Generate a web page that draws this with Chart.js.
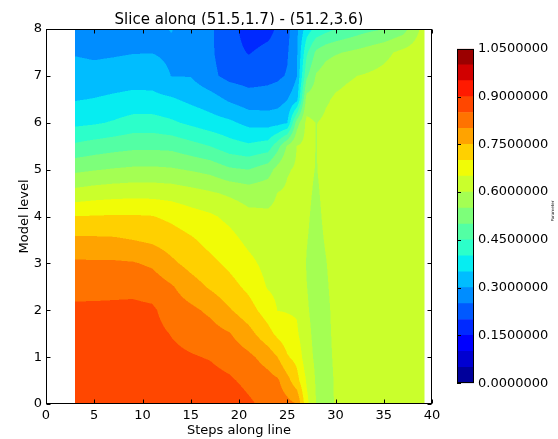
<!DOCTYPE html>
<html>
<head>
<meta charset="utf-8">
<script src="https://cdn.jsdelivr.net/npm/chart.js@4.4.0/dist/chart.umd.min.js"></script>
<style>
  body { margin: 0; background: #fff; }
  #wrap { position: relative; width: 558px; height: 439px; }
  #main { position: absolute; left: 0; top: 0; }
  #cbar { position: absolute; left: 440px; top: 37px; }
</style>
</head>
<body>
<div id="wrap">
  <canvas id="main" width="558" height="439"></canvas>
  <canvas id="cbar" width="118" height="358"></canvas>
</div>
<script>
// grid of the slice: steps along the line (columns) and model levels (rows)
const steps = [3, 5, 7, 9, 11, 13, 15, 17, 19, 21, 23, 24, 25, 26, 27, 28, 29, 30, 31, 33, 35, 37, 39.2];
const modelLevels = [0, 0.5, 1, 1.5, 2, 2.5, 3, 3.5, 4, 4.5, 5, 5.5, 6, 6.5, 7, 7.5, 8];

// parameter value, one row per model level
const values = [
  [0.885,0.885,0.885,0.885,0.885,0.885,0.885,0.885,0.880,0.858,0.835,0.828,0.815,0.800,0.665,0.599,0.575,0.605,0.620,0.625,0.625,0.625,0.630],
  [0.877,0.877,0.877,0.877,0.877,0.873,0.869,0.867,0.857,0.837,0.818,0.807,0.767,0.718,0.645,0.594,0.578,0.606,0.620,0.625,0.625,0.625,0.630],
  [0.872,0.872,0.872,0.872,0.871,0.861,0.854,0.847,0.831,0.811,0.779,0.750,0.705,0.684,0.620,0.590,0.585,0.608,0.620,0.625,0.625,0.625,0.630],
  [0.866,0.866,0.866,0.866,0.865,0.848,0.833,0.821,0.803,0.767,0.717,0.688,0.670,0.657,0.612,0.587,0.588,0.610,0.620,0.625,0.625,0.625,0.630],
  [0.859,0.859,0.860,0.862,0.858,0.827,0.811,0.790,0.755,0.721,0.675,0.649,0.647,0.645,0.605,0.585,0.590,0.612,0.620,0.625,0.625,0.625,0.630],
  [0.835,0.836,0.837,0.837,0.829,0.805,0.772,0.744,0.718,0.688,0.646,0.639,0.639,0.639,0.601,0.584,0.594,0.615,0.620,0.625,0.625,0.625,0.630],
  [0.808,0.807,0.807,0.804,0.792,0.760,0.734,0.713,0.689,0.663,0.634,0.630,0.631,0.632,0.598,0.583,0.598,0.618,0.620,0.625,0.625,0.625,0.630],
  [0.760,0.759,0.757,0.750,0.741,0.725,0.707,0.684,0.666,0.638,0.621,0.620,0.623,0.626,0.602,0.585,0.604,0.620,0.620,0.625,0.625,0.625,0.630],
  [0.701,0.703,0.705,0.705,0.702,0.689,0.671,0.658,0.638,0.614,0.608,0.611,0.615,0.619,0.606,0.588,0.610,0.620,0.620,0.625,0.625,0.625,0.630],
  [0.617,0.626,0.631,0.634,0.633,0.629,0.618,0.606,0.592,0.578,0.584,0.601,0.607,0.613,0.609,0.593,0.613,0.620,0.620,0.625,0.625,0.625,0.630],
  [0.539,0.547,0.554,0.559,0.560,0.556,0.546,0.534,0.508,0.500,0.528,0.568,0.596,0.606,0.611,0.598,0.615,0.620,0.620,0.625,0.625,0.625,0.630],
  [0.460,0.472,0.481,0.488,0.489,0.486,0.468,0.450,0.422,0.409,0.423,0.481,0.556,0.601,0.612,0.599,0.612,0.618,0.620,0.625,0.625,0.625,0.630],
  [0.388,0.394,0.405,0.420,0.421,0.408,0.390,0.372,0.360,0.336,0.331,0.334,0.347,0.528,0.612,0.599,0.608,0.614,0.620,0.625,0.625,0.625,0.630],
  [0.347,0.352,0.359,0.365,0.364,0.356,0.338,0.322,0.292,0.271,0.271,0.278,0.299,0.332,0.570,0.575,0.595,0.605,0.608,0.615,0.625,0.625,0.630],
  [0.321,0.318,0.323,0.328,0.327,0.299,0.298,0.262,0.235,0.228,0.236,0.241,0.254,0.299,0.490,0.555,0.575,0.588,0.595,0.603,0.612,0.625,0.630],
  [0.296,0.291,0.294,0.298,0.299,0.290,0.289,0.258,0.222,0.197,0.215,0.223,0.245,0.294,0.440,0.510,0.535,0.545,0.552,0.568,0.588,0.612,0.630],
  [0.270,0.270,0.275,0.285,0.290,0.302,0.280,0.256,0.225,0.172,0.183,0.208,0.235,0.290,0.375,0.415,0.433,0.450,0.462,0.485,0.500,0.530,0.620]
];

// filled contour boundaries and the colour bar labels
const contourLevels = [0, 0.05, 0.1, 0.15, 0.2, 0.25, 0.3, 0.35, 0.4, 0.45, 0.5, 0.55,
                       0.6, 0.65, 0.7, 0.75, 0.8, 0.85, 0.9, 0.95, 1.0, 1.05];
const colorbarTicks = [0, 0.15, 0.3, 0.45, 0.6, 0.75, 0.9, 1.05];

const titleText = 'Slice along (51.5,1.7) - (51.2,3.6)';
const FONT = '"DejaVu Sans", sans-serif';

// matplotlib "jet", sampled from a 256 entry table
function jet(t) {
  const seg = pts => {
    for (let i = 1; i < pts.length; i++) {
      if (t <= pts[i][0]) {
        const [x0, y0] = pts[i - 1], [x1, y1] = pts[i];
        return y0 + (y1 - y0) * (t - x0) / (x1 - x0);
      }
    }
    return pts[pts.length - 1][1];
  };
  const r = seg([[0, 0], [0.35, 0], [0.66, 1], [0.89, 1], [1, 0.5]]);
  const g = seg([[0, 0], [0.125, 0], [0.375, 1], [0.64, 1], [0.91, 0], [1, 0]]);
  const b = seg([[0, 0.5], [0.11, 1], [0.34, 1], [0.65, 0], [1, 0]]);
  return [Math.round(r * 255), Math.round(g * 255), Math.round(b * 255)];
}

const vmin = contourLevels[0], vmax = contourLevels[contourLevels.length - 1];
const bandColors = [];
for (let k = 0; k < contourLevels.length - 1; k++) {
  const mid = (contourLevels[k] + contourLevels[k + 1]) / 2;
  const idx = Math.min(255, Math.floor((mid - vmin) / (vmax - vmin) * 256));
  bandColors.push(jet(idx / 255));
}
const rgb = c => `rgb(${c[0]},${c[1]},${c[2]})`;

function bandOf(z) {
  for (let k = 0; k < contourLevels.length - 1; k++) {
    if (z < contourLevels[k + 1]) return k;
  }
  return contourLevels.length - 2;
}

function locate(arr, v) {
  let i = 0;
  while (i < arr.length - 2 && v > arr[i + 1]) i++;
  return i;
}

// bilinear value inside the grid
function sample(x, y) {
  const i = locate(steps, x), j = locate(modelLevels, y);
  const tx = (x - steps[i]) / (steps[i + 1] - steps[i]);
  const ty = (y - modelLevels[j]) / (modelLevels[j + 1] - modelLevels[j]);
  const a = values[j][i], b = values[j][i + 1];
  const c = values[j + 1][i], d = values[j + 1][i + 1];
  return (a * (1 - tx) + b * tx) * (1 - ty) + (c * (1 - tx) + d * tx) * ty;
}

const contourPlugin = {
  id: 'contourFill',
  beforeDatasetsDraw(chart) {
    const { ctx, chartArea: area, scales: { x, y } } = chart;

    // title sits behind the axes, its lower edge gets covered
    ctx.save();
    ctx.font = `15px ${FONT}`;
    ctx.fillStyle = '#000';
    ctx.textAlign = 'center';
    ctx.textBaseline = 'alphabetic';
    ctx.fillText(titleText, (area.left + area.right) / 2, 24);
    ctx.fillStyle = '#fff';
    ctx.fillRect(area.left, 25, area.right - area.left, area.bottom - 25);
    ctx.restore();

    const w = Math.round(area.right - area.left), h = Math.round(area.bottom - area.top);
    const off = document.createElement('canvas');
    off.width = w; off.height = h;
    const octx = off.getContext('2d');
    const img = octx.createImageData(w, h);
    const sub = [0.25, 0.75];
    const xMin = steps[0], xMax = steps[steps.length - 1];
    const yMin = modelLevels[0], yMax = modelLevels[modelLevels.length - 1];
    for (let py = 0; py < h; py++) {
      for (let px = 0; px < w; px++) {
        let r = 0, g = 0, b = 0, n = 0;
        for (const sy of sub) {
          const yv = y.getValueForPixel(area.top + py + sy);
          if (yv < yMin || yv > yMax) continue;
          for (const sx of sub) {
            const xv = x.getValueForPixel(area.left + px + sx);
            if (xv < xMin || xv > xMax) continue;
            const c = bandColors[bandOf(sample(xv, yv))];
            r += c[0]; g += c[1]; b += c[2]; n++;
          }
        }
        if (!n) continue;
        const o = (py * w + px) * 4;
        img.data[o] = r / n; img.data[o + 1] = g / n; img.data[o + 2] = b / n;
        img.data[o + 3] = Math.round(255 * n / 4);
      }
    }
    octx.putImageData(img, 0, 0);
    ctx.drawImage(off, area.left, area.top);
  },
  afterDraw(chart) {
    const { ctx, chartArea: area, scales: { x, y } } = chart;
    const L = Math.round(area.left) + 0.5, R = Math.round(area.right) - 0.5;
    const T = Math.round(area.top) + 0.5, B = Math.round(area.bottom) - 0.5;
    ctx.save();
    ctx.strokeStyle = '#000';
    ctx.lineWidth = 1;
    ctx.beginPath();
    // inward ticks on all four sides
    x.ticks.forEach(t => {
      const p = Math.round(x.getPixelForValue(t.value)) + 0.5;
      ctx.moveTo(p, B); ctx.lineTo(p, B - 4);
      ctx.moveTo(p, T); ctx.lineTo(p, T + 4);
    });
    y.ticks.forEach(t => {
      const p = Math.round(y.getPixelForValue(t.value)) + 0.5;
      ctx.moveTo(L, p); ctx.lineTo(L + 4, p);
      ctx.moveTo(R, p); ctx.lineTo(R - 4, p);
    });
    ctx.stroke();
    ctx.strokeRect(L, T, R - L, B - T);
    ctx.restore();
  }
};

const gridPoints = [];
modelLevels.forEach((lv, j) => steps.forEach((s, i) => gridPoints.push({ x: s, y: lv, v: values[j][i] })));

new Chart(document.getElementById('main'), {
  type: 'scatter',
  data: { datasets: [{ data: gridPoints, pointRadius: 0, pointHoverRadius: 0 }] },
  options: {
    responsive: false,
    animation: false,
    events: [],
    layout: { padding: { left: 16, right: 126, top: 29, bottom: 0 } },
    plugins: { legend: { display: false }, tooltip: { enabled: false } },
    scales: {
      x: {
        type: 'linear', min: 0, max: 40,
        grid: { display: false, drawTicks: false },
        border: { display: false },
        ticks: { stepSize: 5, padding: 4, color: '#000', font: { family: FONT, size: 13 }, maxRotation: 0 },
        title: { display: true, text: 'Steps along line', color: '#000', font: { family: FONT, size: 13 }, padding: { top: 0, bottom: 1 } },
        afterFit(scale) { scale.height = 35; }
      },
      y: {
        type: 'linear', min: 0, max: 8,
        grid: { display: false, drawTicks: false },
        border: { display: false },
        ticks: { stepSize: 1, padding: 4, color: '#000', font: { family: FONT, size: 13 } },
        title: { display: true, text: 'Model level', color: '#000', font: { family: FONT, size: 13 }, padding: { top: 1, bottom: 0 } },
        afterFit(scale) { scale.width = 30; }
      }
    }
  },
  plugins: [contourPlugin]
});

// colour bar: one stacked bar, a segment per contour band
const cbDatasets = bandColors.map((c, k) => ({
  data: [contourLevels[k + 1] - contourLevels[k]],
  backgroundColor: rgb(c),
  borderWidth: 0,
  barPercentage: 1,
  categoryPercentage: 1
}));

const colorbarFrame = {
  id: 'colorbarFrame',
  afterDraw(chart) {
    const { ctx, chartArea: a, scales: { y } } = chart;
    ctx.save();
    ctx.strokeStyle = '#000';
    ctx.lineWidth = 1;
    ctx.beginPath();
    colorbarTicks.forEach(v => {
      const p = Math.round(y.getPixelForValue(v)) + 0.5;
      ctx.moveTo(a.left, p); ctx.lineTo(a.left + 4, p);
    });
    ctx.stroke();
    ctx.strokeRect(Math.round(a.left) + 0.5, Math.round(a.top) + 0.5,
                   Math.round(a.right - a.left) - 1, Math.round(a.bottom - a.top) - 1);
    // tiny axis caption at the far right
    ctx.font = `4px ${FONT}`;
    ctx.fillStyle = '#000';
    ctx.textAlign = 'center';
    ctx.textBaseline = 'middle';
    ctx.translate(113, (a.top + a.bottom) / 2 - 5);
    ctx.rotate(-Math.PI / 2);
    ctx.fillText('Parameter', 0, 0);
    ctx.restore();
  }
};

new Chart(document.getElementById('cbar'), {
  type: 'bar',
  data: { labels: [''], datasets: cbDatasets },
  options: {
    responsive: false,
    animation: false,
    events: [],
    layout: { padding: { left: 17, right: 0, top: 8, bottom: 11 } },
    plugins: { legend: { display: false }, tooltip: { enabled: false } },
    scales: {
      x: { stacked: true, display: false },
      y: {
        stacked: true, position: 'right', min: 0, max: 1.05,
        grid: { display: false, drawTicks: false },
        border: { display: false },
        ticks: { padding: 4, color: '#000', font: { family: FONT, size: 13 }, callback: v => Number(v).toFixed(7) },
        afterBuildTicks(scale) { scale.ticks = colorbarTicks.map(v => ({ value: v })); },
        afterFit(scale) { scale.width = 84; }
      }
    }
  },
  plugins: [colorbarFrame]
});
</script>
</body>
</html>
